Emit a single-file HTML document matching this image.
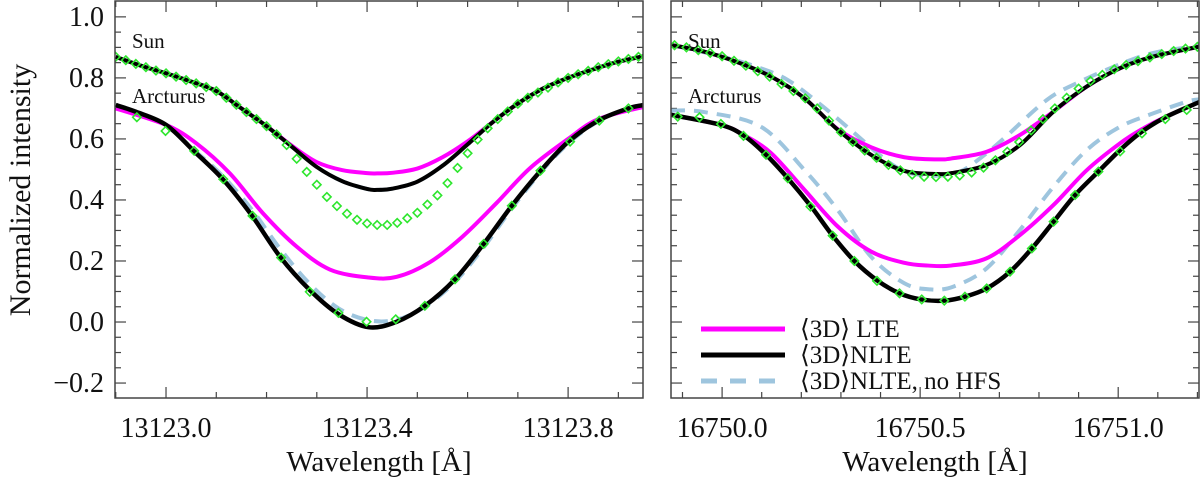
<!DOCTYPE html>
<html><head><meta charset="utf-8"><style>
html,body{margin:0;padding:0;background:#fff;}
svg{display:block;}
svg text{font-family:"Liberation Serif","DejaVu Serif",serif;}
</style></head><body>
<svg id="chart" width="1200" height="478" viewBox="0 0 1200 478" font-family="Liberation Serif, DejaVu Serif, serif"></svg>
<script>
// ---------- Data: left panel (13123 Å line) ----------
const lSunLam   = [13122.90,13122.95,13123.00,13123.05,13123.10,13123.15,13123.20,13123.25,13123.30,13123.35,13123.40,13123.42,13123.45,13123.50,13123.55,13123.60,13123.65,13123.70,13123.75,13123.80,13123.85,13123.90,13123.95];
const lSunNLTE  = [0.869,0.840,0.815,0.788,0.757,0.700,0.642,0.575,0.508,0.462,0.436,0.433,0.437,0.460,0.512,0.582,0.655,0.716,0.765,0.800,0.828,0.853,0.871];
const lSunLTE   = [0.869,0.840,0.815,0.788,0.757,0.700,0.642,0.578,0.524,0.498,0.488,0.487,0.489,0.503,0.540,0.592,0.655,0.716,0.765,0.800,0.828,0.853,0.871];
const lSunObsLam = [13122.90,13122.92,13122.94,13122.96,13122.98,13123.00,13123.02,13123.04,13123.06,13123.08,13123.10,13123.12,13123.14,13123.16,13123.18,13123.20,13123.22,13123.24,13123.26,13123.28,13123.30,13123.32,13123.34,13123.36,13123.38,13123.40,13123.42,13123.44,13123.46,13123.48,13123.50,13123.52,13123.54,13123.56,13123.58,13123.60,13123.62,13123.64,13123.66,13123.68,13123.70,13123.72,13123.74,13123.76,13123.78,13123.80,13123.82,13123.84,13123.86,13123.88,13123.90,13123.92,13123.94];
const lSunObs   = [0.869,0.858,0.846,0.835,0.824,0.815,0.804,0.793,0.782,0.770,0.757,0.735,0.712,0.688,0.665,0.642,0.615,0.580,0.535,0.492,0.450,0.410,0.380,0.355,0.335,0.323,0.318,0.318,0.325,0.340,0.358,0.385,0.415,0.455,0.505,0.553,0.598,0.635,0.665,0.690,0.715,0.735,0.752,0.768,0.785,0.800,0.812,0.823,0.835,0.845,0.854,0.862,0.869];
const lArcLam   = [13122.90,13122.94,13123.00,13123.055,13123.113,13123.17,13123.227,13123.286,13123.343,13123.403,13123.459,13123.515,13123.575,13123.632,13123.688,13123.745,13123.80,13123.86,13123.92,13123.95];
const lArcNLTE  = [0.711,0.689,0.646,0.561,0.468,0.351,0.214,0.105,0.026,-0.017,0.001,0.053,0.140,0.256,0.381,0.495,0.590,0.660,0.700,0.711];
const lArcNoHFS = [0.711,0.689,0.646,0.565,0.478,0.370,0.240,0.125,0.045,0.006,0.008,0.050,0.132,0.245,0.372,0.490,0.585,0.658,0.700,0.711];
const lArcLTELam = [13122.90,13123.00,13123.06,13123.127,13123.193,13123.26,13123.326,13123.403,13123.459,13123.525,13123.59,13123.657,13123.724,13123.80,13123.86,13123.95];
const lArcLTE   = [0.700,0.646,0.586,0.487,0.356,0.247,0.172,0.146,0.148,0.196,0.280,0.389,0.504,0.600,0.665,0.705];
const lArcObsLam = [13122.942,13122.999,13123.056,13123.114,13123.172,13123.229,13123.286,13123.343,13123.399,13123.457,13123.515,13123.575,13123.632,13123.688,13123.745,13123.804,13123.862,13123.920];
const lArcObs   = [0.671,0.626,0.561,0.468,0.348,0.211,0.099,0.030,0.001,0.009,0.053,0.140,0.256,0.381,0.496,0.591,0.660,0.700];

// ---------- Data: right panel (16750 Å line) ----------
const rSunLam   = [16749.871,16749.955,16750.04,16750.124,16750.208,16750.292,16750.376,16750.46,16750.544,16750.584,16750.668,16750.752,16750.837,16750.921,16751.005,16751.089,16751.207];
const rSunNLTE  = [0.908,0.886,0.851,0.804,0.733,0.630,0.548,0.495,0.485,0.489,0.515,0.580,0.690,0.772,0.832,0.870,0.903];
const rSunLTE   = [0.908,0.886,0.851,0.804,0.733,0.632,0.573,0.540,0.533,0.537,0.558,0.613,0.690,0.772,0.832,0.870,0.903];
const rSunNoHFSLam = [16749.871,16750.00,16750.09,16750.166,16750.25,16750.334,16750.40,16750.45,16750.50,16750.55,16750.60,16750.65,16750.71,16750.82,16750.904,16751.02,16751.10,16751.207];
const rSunNoHFS = [0.908,0.870,0.835,0.793,0.711,0.619,0.545,0.500,0.482,0.480,0.492,0.535,0.600,0.728,0.788,0.853,0.885,0.905];
const rSunObsLam = [16749.88,16749.91,16749.94,16749.97,16750.00,16750.03,16750.06,16750.09,16750.12,16750.15,16750.18,16750.21,16750.24,16750.27,16750.30,16750.33,16750.36,16750.39,16750.42,16750.45,16750.48,16750.51,16750.54,16750.57,16750.60,16750.63,16750.66,16750.69,16750.72,16750.75,16750.78,16750.81,16750.84,16750.87,16750.90,16750.93,16750.96,16750.99,16751.02,16751.05,16751.08,16751.11,16751.14,16751.17,16751.20];
const rSunObs   = [0.907,0.900,0.891,0.882,0.871,0.856,0.840,0.822,0.804,0.780,0.757,0.733,0.700,0.660,0.622,0.590,0.562,0.538,0.515,0.497,0.483,0.476,0.475,0.476,0.480,0.490,0.506,0.530,0.558,0.590,0.628,0.665,0.700,0.735,0.765,0.790,0.810,0.828,0.842,0.855,0.867,0.878,0.888,0.896,0.902];
const rArcLam   = [16749.871,16749.997,16750.056,16750.111,16750.166,16750.225,16750.279,16750.334,16750.393,16750.448,16750.502,16750.561,16750.613,16750.668,16750.727,16750.782,16750.837,16750.891,16750.95,16751.005,16751.06,16751.119,16751.207];
const rArcNLTE  = [0.679,0.646,0.610,0.548,0.471,0.378,0.283,0.200,0.135,0.094,0.074,0.070,0.083,0.110,0.165,0.241,0.329,0.416,0.493,0.564,0.624,0.671,0.722];
const rArcLTELam = [16749.871,16749.997,16750.056,16750.124,16750.208,16750.292,16750.376,16750.46,16750.52,16750.578,16750.668,16750.752,16750.837,16750.921,16751.005,16751.06,16751.119,16751.207];
const rArcLTE   = [0.679,0.646,0.612,0.553,0.433,0.313,0.231,0.194,0.185,0.185,0.209,0.285,0.384,0.498,0.586,0.632,0.672,0.722];
const rArcNoHFSLam = [16749.871,16749.955,16750.098,16750.208,16750.292,16750.376,16750.46,16750.525,16750.584,16750.668,16750.752,16750.837,16750.921,16751.005,16751.089,16751.173,16751.207];
const rArcNoHFS = [0.693,0.688,0.640,0.498,0.367,0.214,0.127,0.107,0.116,0.176,0.302,0.444,0.564,0.640,0.684,0.722,0.730];
const rArcObsLam = [16749.888,16749.943,16749.997,16750.054,16750.111,16750.166,16750.223,16750.279,16750.334,16750.391,16750.448,16750.504,16750.561,16750.613,16750.668,16750.727,16750.782,16750.837,16750.891,16750.950,16751.005,16751.060,16751.119,16751.173];
const rArcObs   = [0.673,0.671,0.649,0.610,0.548,0.471,0.378,0.283,0.200,0.135,0.094,0.074,0.070,0.083,0.110,0.165,0.241,0.329,0.416,0.493,0.559,0.618,0.665,0.695];

// ---------- Tick labels ----------
const yTickVals = [-0.2,0.0,0.2,0.4,0.6,0.8,1.0];
const yTickLabels = ["\u22120.2","0.0","0.2","0.4","0.6","0.8","1.0"];
const lXTickVals = [13123.0,13123.4,13123.8];
const lXTickLabels = ["13123.0","13123.4","13123.8"];
const rXTickVals = [16750.0,16750.5,16751.0];
const rXTickLabels = ["16750.0","16750.5","16751.0"];

const NS="http://www.w3.org/2000/svg";
const FONT="Liberation Serif, DejaVu Serif, serif";
const svg=document.getElementById('chart');
function mk(tag,attrs,parent){const e=document.createElementNS(NS,tag);for(const k in attrs)e.setAttribute(k,attrs[k]);if(tag==='text')e.setAttribute('font-family',FONT);(parent||svg).appendChild(e);return e;}

const Y0=1.052,Y1=-0.249,PT=1,PB=398;
function yS(v){return PT+(Y0-v)/(Y0-Y1)*(PB-PT);}

function panel(name,x0,x1,lam0,lam1,majors,majLabels,minorStep,showY){
  const g=mk('g',{});
  
  
  const xS=l=>x0+(l-lam0)/(lam1-lam0)*(x1-x0);
  const ticks=mk('g',{stroke:'#444','stroke-width':1.2},g);
  
  
  for(let i=0;i<=25;i++){const v=-0.25+i*0.05;const y=yS(v);if(y<PT||y>PB)continue;
    const major=Math.abs(Math.round(v*5)-v*5)<1e-6;const L=major?11:6;
    mk('line',{x1:x0,y1:y,x2:x0+L,y2:y},ticks);mk('line',{x1:x1,y1:y,x2:x1-L,y2:y},ticks);}
  const start=Math.ceil(lam0/minorStep)*minorStep;
  for(let l=start;l<=lam1+1e-9;l+=minorStep){const x=xS(l);
    const major=majors.some(m=>Math.abs(m-l)<1e-6);const L=major?11:6;
    mk('line',{x1:x,y1:PB,x2:x,y2:PB-L},ticks);mk('line',{x1:x,y1:PT,x2:x,y2:PT+L},ticks);}
  majors.forEach((m,i)=>{const t=mk('text',{x:xS(m),y:437,'font-size':28,'text-anchor':'middle',fill:'#111'},g);t.textContent=majLabels[i];
    
    });
  if(showY){yTickVals.forEach((v,i)=>{const t=mk('text',{x:104,y:yS(v)+9,'font-size':28,'text-anchor':'end',fill:'#111'},g);t.textContent=yTickLabels[i];
    
    });}
  const xt=mk('text',{x:(x0+x1)/2,y:471,'font-size':29,'text-anchor':'middle',fill:'#111'},g);xt.textContent='Wavelength [\u00c5]';
  
  
  const clipId='clip-'+name;
  const cp=mk('clipPath',{id:clipId},g);mk('rect',{x:x0,y:PT,width:x1-x0,height:PB-PT},cp);
  const plot=mk('g',{'clip-path':'url(#'+clipId+')'},g);
  function line(lams,vals,stroke,w,dash,nm){
    const pts=lams.map((l,i)=>[xS(l),yS(vals[i])]);
    let d='M'+pts[0][0]+','+pts[0][1];
    for(let i=0;i<pts.length-1;i++){const p0=pts[Math.max(0,i-1)],p1=pts[i],p2=pts[i+1],p3=pts[Math.min(pts.length-1,i+2)];
      const c1=[p1[0]+(p2[0]-p0[0])/6,p1[1]+(p2[1]-p0[1])/6],c2=[p2[0]-(p3[0]-p1[0])/6,p2[1]-(p3[1]-p1[1])/6];
      d+=' C'+c1+' '+c2+' '+p2;}
    const p=mk('path',{d:d,fill:'none',stroke:stroke,'stroke-width':w,'stroke-linejoin':'round'},plot);
    if(dash)p.setAttribute('stroke-dasharray',dash);
    
    
  }
  function diamonds(lams,vals,nm){
    const dg=mk('g',{fill:'none',stroke:'#2ee62e','stroke-width':1.6},plot);
    
    
    lams.forEach((l,i)=>{const x=xS(l),y=yS(vals[i]);
      const p=mk('path',{d:`M${x},${y-4.2} L${x+4.2},${y} L${x},${y+4.2} L${x-4.2},${y} Z`},dg);
      
      });
  }
  const frame=mk('rect',{x:x0,y:PT,width:x1-x0,height:PB-PT,fill:'none',stroke:'#444','stroke-width':1.5},g);
  
  
  return {line,diamonds,xS,g};
}

const L=panel('left-panel',115,643,13122.8985,13123.949,lXTickVals,lXTickLabels,0.1,true);
L.line(lArcLam,lArcNoHFS,'#9ec5de',4,'14 9','arcturus-nlte-nohfs-line');
L.line(lArcLTELam,lArcLTE,'#ff00ff',4,null,'arcturus-lte-line');
L.line(lArcLam,lArcNLTE,'#000',4.5,null,'arcturus-nlte-line');
L.line(lSunLam,lSunNLTE,'#9ec5de',4,'14 9','sun-nlte-nohfs-line');
L.line(lSunLam,lSunLTE,'#ff00ff',4,null,'sun-lte-line');
L.line(lSunLam,lSunNLTE,'#000',4,null,'sun-nlte-line');
L.diamonds(lSunObsLam,lSunObs,'sun-observed');
L.diamonds(lArcObsLam,lArcObs,'arcturus-observed');

const R=panel('right-panel',671,1199,16749.871,16751.204,rXTickVals,rXTickLabels,0.1,false);
R.line(rArcNoHFSLam,rArcNoHFS,'#9ec5de',4,'14 9','arcturus-nlte-nohfs-line');
R.line(rArcLTELam,rArcLTE,'#ff00ff',4,null,'arcturus-lte-line');
R.line(rArcLam,rArcNLTE,'#000',4.5,null,'arcturus-nlte-line');
R.line(rSunNoHFSLam,rSunNoHFS,'#9ec5de',4,'14 9','sun-nlte-nohfs-line');
R.line(rSunLam,rSunLTE,'#ff00ff',4,null,'sun-lte-line');
R.line(rSunLam,rSunNLTE,'#000',4,null,'sun-nlte-line');
R.diamonds(rSunObsLam,rSunObs,'sun-observed');
R.diamonds(rArcObsLam,rArcObs,'arcturus-observed');

[[132,48,'Sun','sun-label-left'],[132,103,'Arcturus','arcturus-label-left'],[688,48,'Sun','sun-label-right'],[688,103,'Arcturus','arcturus-label-right']].forEach(a=>{
  const t=mk('text',{x:a[0],y:a[1],'font-size':21,fill:'#111'});t.textContent=a[2];
  
  });

const yt=mk('text',{x:0,y:0,'font-size':30,'text-anchor':'middle',fill:'#111',transform:'translate(30,190) rotate(-90)'});
yt.textContent='Normalized intensity';



const leg=mk('g',{});


[[329,'#ff00ff',null,'\u27e83D\u27e9 LTE','legend-entry-lte'],[355,'#000',null,'\u27e83D\u27e9NLTE','legend-entry-nlte'],[381,'#9ec5de','16 13','\u27e83D\u27e9NLTE, no HFS','legend-entry-nlte-nohfs']].forEach(r=>{
  const eg=mk('g',{},leg);
  
  
  const ln=mk('line',{x1:701,y1:r[0],x2:785,y2:r[0],stroke:r[1],'stroke-width':5},eg);
  if(r[2])ln.setAttribute('stroke-dasharray',r[2]);
  const t=mk('text',{x:800,y:r[0]+8,'font-size':25,fill:'#111'},eg);t.textContent=r[3];
});
</script>
</body></html>
